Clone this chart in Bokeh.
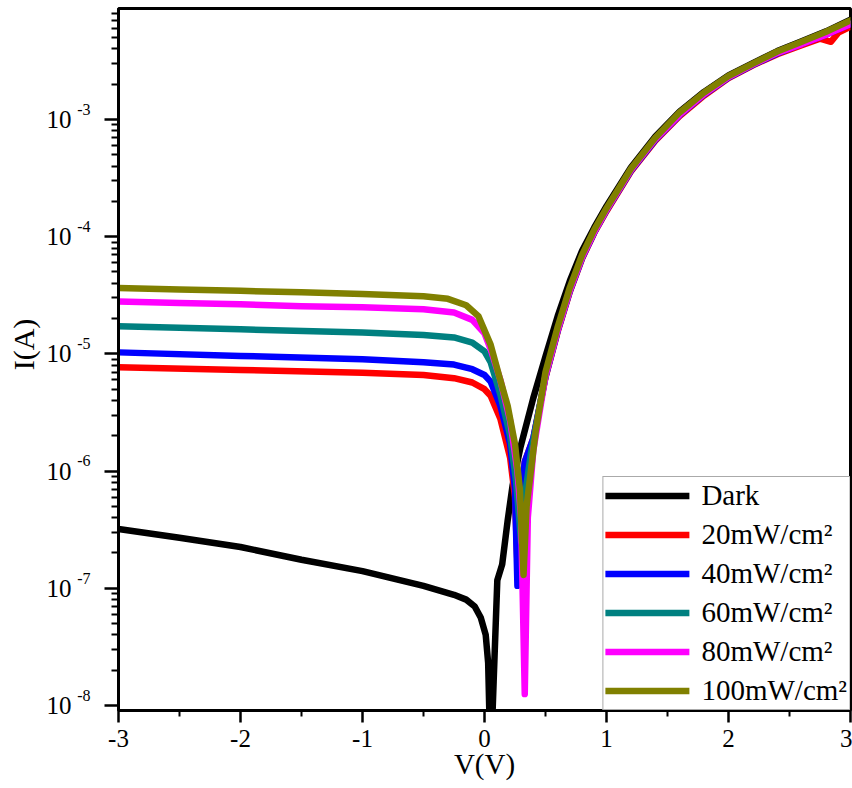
from bokeh.plotting import figure
from bokeh.models import (Range1d, FixedTicker, LogAxis, CustomJSTickFormatter, Legend,
                          LegendItem)
from bokeh.embed import file_html
from bokeh.resources import INLINE

# ---------------- data ----------------
X_TICKS = [-3, -2, -1, 0, 1, 2, 3]
X_MINOR = [-2.5, -1.5, -0.5, 0.5, 1.5, 2.5]
Y_TICKS = [1e-8, 1e-7, 1e-6, 1e-5, 1e-4, 1e-3]
Y_EXP = ["-8", "-7", "-6", "-5", "-4", "-3"]
Y_BASE = "10"
Y_MINOR = [m * t for t in [1e-9] + Y_TICKS for m in range(2, 10)]
Y_MIN, Y_MAX = 9.06e-9, 8.85e-3

DARK_V = [-3.0, -2.5, -2.0, -1.5, -1.0, -0.5, -0.25, -0.15, -0.08, -0.03, 0.01, 0.03, 0.05, 0.075,
          0.105, 0.145, 0.19, 0.23, 0.295, 0.4, 0.5, 0.6, 0.7, 0.8, 0.9, 1.0, 1.2, 1.4, 1.6, 1.8,
          2.0, 2.2, 2.4, 2.6, 2.8, 3.0]
DARK_I = [3.2e-7, 2.7e-7, 2.25e-7, 1.75e-7, 1.4e-7, 1.05e-7, 8.8e-8, 8.0e-8, 7.0e-8, 5.6e-8,
          4.0e-8, 2.3e-8, 3e-9, 1.6e-8, 1.17e-7, 1.6e-7, 3.8e-7, 7.5e-7, 1.6e-6, 4.2e-6, 9.5e-6,
          2.1e-5, 4.2e-5, 7.6e-5, 1.2e-4, 1.82e-4, 3.9e-4, 7.15e-4, 1.17e-3, 1.72e-3, 2.38e-3,
          3.03e-3, 3.83e-3, 4.65e-3, 5.65e-3, 7.1e-3]

P20_V = [-3.0, -2.0, -1.0, -0.5, -0.25, -0.1, 0.0, 0.05, 0.13, 0.21, 0.25, 0.27, 0.29, 0.33,
         0.4, 0.5, 0.6, 0.7, 0.8, 0.9, 1.0, 1.2, 1.4, 1.6, 1.8, 2.0, 2.2, 2.4, 2.6, 2.75, 2.84,
         2.9, 3.0]
P20_I = [7.7e-6, 7.3e-6, 6.9e-6, 6.6e-6, 6.2e-6, 5.7e-6, 5.0e-6, 4.4e-6, 2.8e-6, 1.3e-6, 6e-7,
         1.6e-7, 5e-7, 1.2e-6, 1.9e-6, 6.3e-6, 1.55e-5, 3.4e-5, 6.5e-5, 1.08e-4, 1.65e-4, 3.6e-4,
         6.6e-4, 1.07e-3, 1.6e-3, 2.25e-3, 2.9e-3, 3.6e-3, 4.3e-3, 4.9e-3, 4.6e-3, 5.5e-3, 6.2e-3]

P40_V = [-3.0, -2.0, -1.0, -0.5, -0.25, -0.1, 0.0, 0.05, 0.13, 0.21, 0.25, 0.27, 0.29, 0.33,
         0.4, 0.5, 0.6, 0.7, 0.8, 0.9, 1.0, 1.2, 1.4, 1.6, 1.8, 2.0, 2.2, 2.4, 2.6, 2.8, 3.0]
P40_I = [1.03e-5, 9.6e-6, 9.0e-6, 8.5e-6, 8.1e-6, 7.4e-6, 6.6e-6, 5.8e-6, 3.6e-6, 1.7e-6, 7e-7,
         1.05e-7, 5e-7, 1.2e-6, 1.9e-6, 6.4e-6, 1.58e-5, 3.45e-5, 6.6e-5, 1.09e-4, 1.68e-4, 3.65e-4,
         6.7e-4, 1.09e-3, 1.63e-3, 2.28e-3, 2.93e-3, 3.65e-3, 4.4e-3, 5.3e-3, 6.5e-3]

P60_V = [-3.0, -2.0, -1.0, -0.5, -0.25, -0.1, 0.0, 0.05, 0.13, 0.21, 0.26, 0.30, 0.33, 0.38,
         0.5, 0.6, 0.7, 0.8, 0.9, 1.0, 1.2, 1.4, 1.6, 1.8, 2.0, 2.2, 2.4, 2.6, 2.8, 3.0]
P60_I = [1.72e-5, 1.62e-5, 1.52e-5, 1.45e-5, 1.38e-5, 1.25e-5, 1.05e-5, 8.5e-6, 4.5e-6, 2.0e-6,
         8e-7, 2.5e-7, 6e-7, 1.4e-6, 6.5e-6, 1.6e-5, 3.5e-5, 6.7e-5, 1.1e-4, 1.7e-4, 3.7e-4,
         6.8e-4, 1.1e-3, 1.65e-3, 2.3e-3, 2.95e-3, 3.7e-3, 4.45e-3, 5.4e-3, 6.6e-3]

P80_V = [-3.0, -2.5, -2.0, -1.5, -1.0, -0.5, -0.25, -0.1, 0.0, 0.05, 0.13, 0.21, 0.27, 0.30,
         0.33, 0.355, 0.4, 0.5, 0.6, 0.7, 0.8, 0.9, 1.0, 1.2, 1.4, 1.6, 1.8, 2.0, 2.2, 2.4, 2.6,
         2.8, 3.0]
P80_I = [2.8e-5, 2.72e-5, 2.65e-5, 2.55e-5, 2.5e-5, 2.4e-5, 2.25e-5, 1.95e-5, 1.5e-5, 1.1e-5,
         6e-6, 2.7e-6, 1.0e-6, 4e-7, 1.25e-8, 4e-7, 1.5e-6, 6.5e-6, 1.6e-5, 3.5e-5, 6.7e-5,
         1.1e-4, 1.7e-4, 3.7e-4, 6.8e-4, 1.1e-3, 1.65e-3, 2.3e-3, 2.95e-3, 3.7e-3, 4.4e-3,
         5.3e-3, 6.5e-3]

P100_V = [-3.0, -2.5, -2.0, -1.5, -1.0, -0.5, -0.3, -0.15, -0.05, 0.05, 0.12, 0.19, 0.25, 0.29,
          0.32, 0.345, 0.38, 0.42, 0.5, 0.6, 0.7, 0.8, 0.9, 1.0, 1.2, 1.4, 1.6, 1.8, 2.0, 2.2,
          2.4, 2.6, 2.8, 3.0]
P100_I = [3.65e-5, 3.55e-5, 3.45e-5, 3.35e-5, 3.25e-5, 3.1e-5, 2.95e-5, 2.6e-5, 2.1e-5, 1.2e-5,
          6.5e-6, 3.6e-6, 1.7e-6, 7e-7, 1.3e-7, 5e-7, 1.0e-6, 2.2e-6, 7e-6, 1.7e-5, 3.7e-5, 7e-5,
          1.15e-4, 1.75e-4, 3.8e-4, 7e-4, 1.15e-3, 1.7e-3, 2.35e-3, 3.0e-3, 3.8e-3, 4.6e-3,
          5.6e-3, 7.0e-3]

SERIES = [
    ("Dark", DARK_V, DARK_I, "#000000"),
    ("20mW/cm\u00b2", P20_V, P20_I, "#ff0000"),
    ("40mW/cm\u00b2", P40_V, P40_I, "#0000ff"),
    ("60mW/cm\u00b2", P60_V, P60_I, "#008080"),
    ("80mW/cm\u00b2", P80_V, P80_I, "#ff00ff"),
    ("100mW/cm\u00b2", P100_V, P100_I, "#808000"),
]

FONT = "Liberation Serif"

# ---------------- figure ----------------
p = figure(width=852, height=788, y_axis_type="log",
           x_range=Range1d(X_TICKS[0], X_TICKS[-1]), y_range=Range1d(Y_MIN, Y_MAX),
           output_backend="svg", toolbar_location=None,
           min_border_left=118, min_border_right=2, min_border_top=8, min_border_bottom=78)
p.xgrid.visible = False
p.ygrid.visible = False
p.outline_line_color = "black"
p.outline_line_width = 3
p.background_fill_color = "white"
p.border_fill_color = "white"

items = []
for name, vs, cs, col in SERIES:
    r = p.line(vs, cs, line_color=col, line_width=6.5, line_join="round", line_cap="round")
    items.append(LegendItem(label=name, renderers=[r]))

# x axis
xa = p.xaxis[0]
xa.ticker = FixedTicker(ticks=X_TICKS, minor_ticks=X_MINOR)
xa.formatter = CustomJSTickFormatter(code="return String(tick);")
xa.axis_line_width = 3
xa.major_tick_out = 12
xa.major_tick_in = 0
xa.minor_tick_out = 6
xa.minor_tick_in = 0
xa.major_tick_line_width = 2.5
xa.minor_tick_line_width = 2
xa.major_label_text_font = FONT
xa.major_label_text_font_size = "25px"
xa.major_label_text_color = "black"
xa.major_label_standoff = 7
xa.axis_label = "V(V)"
xa.axis_label_text_font = FONT
xa.axis_label_text_font_size = "29px"
xa.axis_label_text_font_style = "normal"
xa.axis_label_text_color = "black"
xa.axis_label_standoff = -2

# inner y axis: tick marks + raised exponents
ya = p.yaxis[0]
ya.ticker = FixedTicker(ticks=Y_TICKS, minor_ticks=Y_MINOR)
ya.formatter = CustomJSTickFormatter(
    args=dict(decades=Y_TICKS, exps=Y_EXP),
    code="""
    for (let i = 0; i < decades.length; i++) {
        if (Math.abs(Math.log10(decades[i]) - Math.log10(tick)) < 1e-6) {
            return exps[i] + "\\n\\u00a0";
        }
    }
    return "";
    """)
ya.axis_line_width = 3
ya.major_tick_out = 14
ya.major_tick_in = 0
ya.minor_tick_out = 7
ya.minor_tick_in = 0
ya.major_tick_line_width = 2.5
ya.minor_tick_line_width = 2
ya.major_label_standoff = 14
ya.major_label_text_font = FONT
ya.major_label_text_font_size = "16px"
ya.major_label_text_color = "black"

# outer y axis: the "10" of each decade label, plus the axis title
ya10 = LogAxis(ticker=FixedTicker(ticks=Y_TICKS, minor_ticks=[]),
               formatter=CustomJSTickFormatter(args=dict(base=Y_BASE), code="return base;"),
               axis_line_color=None, major_tick_line_color=None, minor_tick_line_color=None,
               major_tick_out=0, major_tick_in=0, minor_tick_out=0, minor_tick_in=0,
               major_label_standoff=3, major_label_text_font=FONT,
               major_label_text_font_size="25px", major_label_text_color="black",
               axis_label="\u00a0\u00a0\u00a0\u00a0I(A)", axis_label_text_font=FONT,
               axis_label_text_font_size="30px",
               axis_label_text_font_style="normal", axis_label_text_color="black",
               axis_label_standoff=4)
p.add_layout(ya10, "left")

legend = Legend(items=items, location="bottom_right")
legend.margin = 0
legend.padding = 2
legend.spacing = 6
legend.glyph_width = 84
legend.glyph_height = 33
legend.label_height = 33
legend.label_standoff = 12
legend.label_text_font = FONT
legend.label_text_font_size = "29px"
legend.label_text_color = "black"
legend.border_line_color = "#555555"
legend.border_line_width = 1.5
legend.background_fill_color = "white"
legend.background_fill_alpha = 1.0
p.add_layout(legend, "center")

open("out.html", "w").write(file_html(p, INLINE))
